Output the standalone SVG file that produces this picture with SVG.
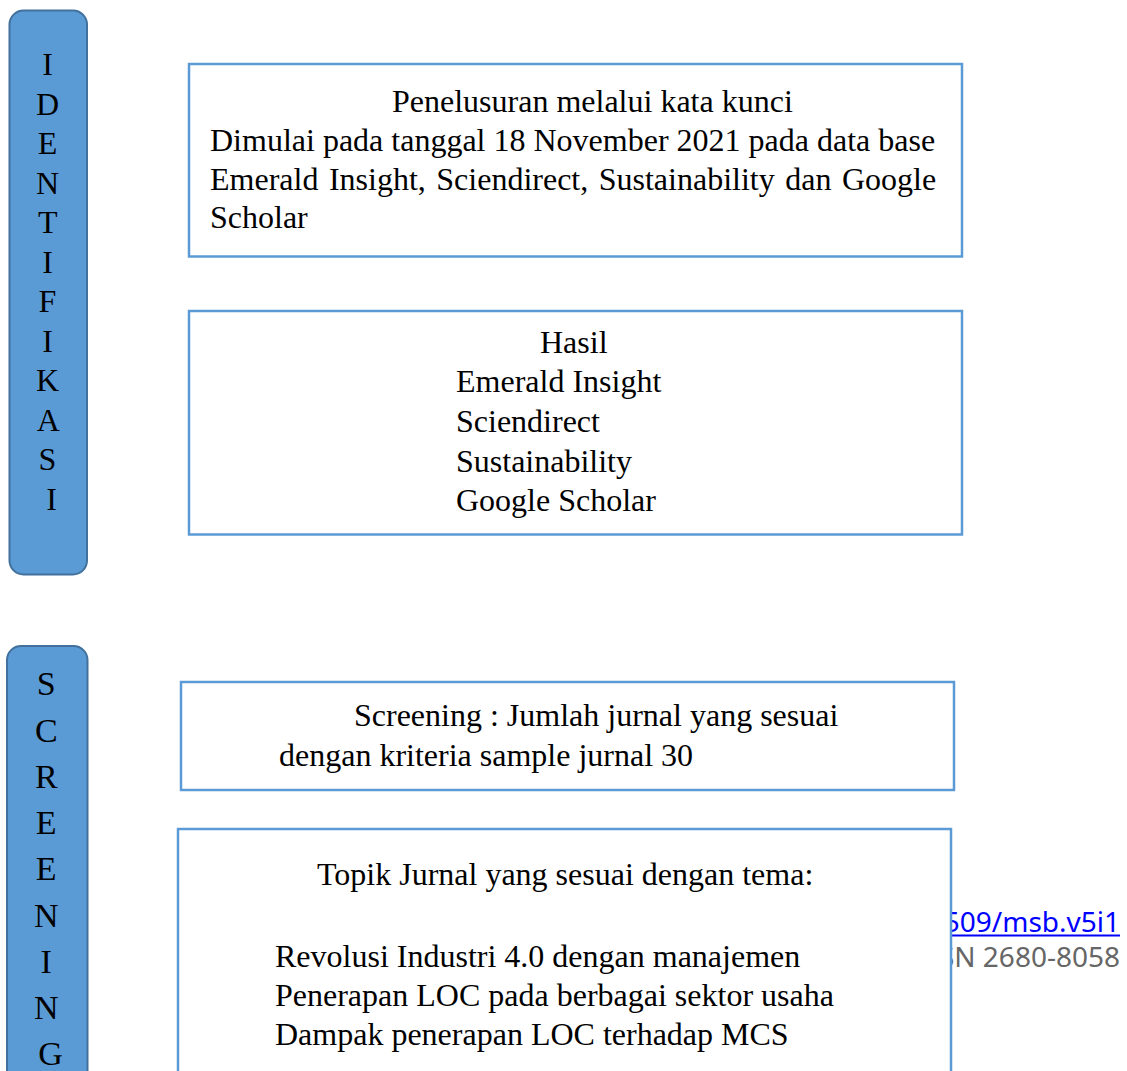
<svg xmlns="http://www.w3.org/2000/svg" width="1127" height="1071" viewBox="0 0 1127 1071">
<style>
.stage{fill:#5B9BD5;stroke:#41719C;stroke-width:2}
.box{fill:#FFFFFF;stroke:#5B9BD5;stroke-width:2.5}
.t{font-family:"Liberation Serif","Times New Roman",serif;font-size:32px;fill:#000}
.v{font-family:"Liberation Serif","Times New Roman",serif;fill:#000;text-anchor:middle}
.link{font-family:"Noto Sans","Open Sans",sans-serif;font-size:28px;fill:#0000FF;text-anchor:end}
.gray{font-family:"Noto Sans","Open Sans",sans-serif;font-size:28px;fill:#666666;text-anchor:end}
</style>
<rect width="1127" height="1071" fill="#FFFFFF"/>

<g id="footer-text">
<text class="link" x="1120" y="932">509/msb.v5i1</text>
<line x1="940" y1="935.5" x2="1120" y2="935.5" stroke="#0000FF" stroke-width="2"/>
<text class="gray" x="1120" y="967">SN 2680-8058</text>
</g>

<g id="identifikasi">
<rect class="stage" x="9.5" y="10.5" width="77.5" height="564" rx="14" ry="14"/>
<text class="v" font-size="32">
<tspan x="51.5" y="75">I</tspan>
<tspan x="51.5" y="114.5">D</tspan>
<tspan x="51.5" y="154">E</tspan>
<tspan x="51.5" y="193.5">N</tspan>
<tspan x="51.5" y="233">T</tspan>
<tspan x="51.5" y="272.5">I</tspan>
<tspan x="51.5" y="312">F</tspan>
<tspan x="51.5" y="351.5">I</tspan>
<tspan x="51.5" y="391">K</tspan>
<tspan x="51.5" y="430.5">A</tspan>
<tspan x="51.5" y="470">S</tspan>
<tspan x="51.5" y="509.5">I</tspan>
</text>
</g>

<g id="screening">
<rect class="stage" x="7" y="646" width="80.5" height="460" rx="14" ry="14"/>
<text class="v" font-size="34">
<tspan x="50.5" y="695">S</tspan>
<tspan x="50.5" y="741.5">C</tspan>
<tspan x="50.5" y="788">R</tspan>
<tspan x="50.5" y="833.5">E</tspan>
<tspan x="50.5" y="880">E</tspan>
<tspan x="50.5" y="926.5">N</tspan>
<tspan x="50.5" y="973">I</tspan>
<tspan x="50.5" y="1018.5">N</tspan>
<tspan x="50.5" y="1065">G</tspan>
</text>
</g>

<g id="penelusuran">
<rect class="box" x="189" y="64" width="773" height="192.5"/>
<text class="t" x="392" y="111.7">Penelusuran melalui kata kunci</text>
<text class="t" x="210" y="150.7">Dimulai pada tanggal 18 November 2021 pada data base</text>
<text class="t" x="210" y="189.5" word-spacing="2.5">Emerald Insight, Sciendirect, Sustainability dan Google</text>
<text class="t" x="210" y="228.3">Scholar</text>
</g>

<g id="hasil">
<rect class="box" x="189" y="311" width="773" height="223.5"/>
<text class="t" x="540" y="353">Hasil</text>
<text class="t" x="456" y="392">Emerald Insight</text>
<text class="t" x="456" y="432">Sciendirect</text>
<text class="t" x="456" y="472">Sustainability</text>
<text class="t" x="456" y="511">Google Scholar</text>
</g>

<g id="screening-jumlah">
<rect class="box" x="181" y="682" width="773" height="108"/>
<text class="t" x="354" y="725.7">Screening : Jumlah jurnal yang sesuai</text>
<text class="t" x="279" y="765.7">dengan kriteria sample jurnal 30</text>
</g>

<g id="topik">
<rect class="box" x="178" y="829" width="773" height="260"/>
<text class="t" x="317" y="885">Topik Jurnal yang sesuai dengan tema:</text>
<text class="t" x="275" y="966.5">Revolusi Industri 4.0 dengan manajemen</text>
<text class="t" x="275" y="1005.7">Penerapan LOC pada berbagai sektor usaha</text>
<text class="t" x="275" y="1044.5">Dampak penerapan LOC terhadap MCS</text>
</g>

<g id="connectors"></g>
</svg>
